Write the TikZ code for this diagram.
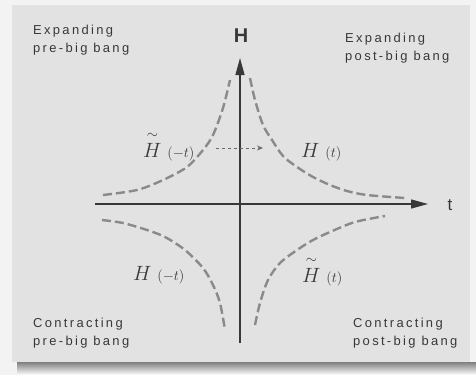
\documentclass[tikz,border=0pt]{standalone}
\usepackage{fontspec}
\usepackage{amsmath}
\setmainfont{Liberation Sans}[LetterSpace=18]
\usetikzlibrary{arrows.meta}
\definecolor{paper}{HTML}{F3F3F3}
\definecolor{panel}{HTML}{E2E2E2}
\definecolor{shade}{HTML}{8E8E8E}
\definecolor{ink}{HTML}{383838}
\definecolor{branchgray}{HTML}{8A8A8A}
\tikzset{
  axis/.style={line width=1.3bp, draw=ink, -{Triangle[length=17bp,width=9bp]}},
  branch/.style={line width=2.4bp, draw=branchgray, dash pattern=on 9bp off 4bp},
  region/.style={inner sep=0pt, align=left, anchor=north west, text=ink,
    font=\fontsize{13}{18}\selectfont},
  hlab/.style={inner sep=0pt, anchor=base west, text=ink,
    font=\fontsize{20}{20}\selectfont},
}
\begin{document}
\begin{tikzpicture}[x=1bp,y=-1bp]
\useasboundingbox (0,0) rectangle (476,375);
\fill[paper] (0,0) rectangle (476,375);
\fill[panel] (12,5) rectangle (470,362);
\fill[shade] (17,362) rectangle (476,375);
% axes
\coordinate (tstart) at (95,204);
\coordinate (tend) at (428,204);
\coordinate (hstart) at (240,343);
\coordinate (hend) at (240,58);
\draw[axis] (tstart) -- (tend);
\draw[axis] (hstart) -- (hend);
\node[inner sep=0pt, text=ink, font=\fontsize{20}{20}\selectfont\bfseries] (Hlab) at (241,36) {H};
\node[inner sep=0pt, text=ink, font=\fontsize{17}{17}\selectfont] (tlab) at (450,205) {t};
% the four branches
\draw[branch] plot[smooth] coordinates {(103,195) (137,190) (163,180) (187,167)
  (203,150) (213,135) (223,108) (230,80)};
\draw[branch] plot[smooth] coordinates {(250,78) (255,100) (263,125) (272,140)
  (283,156) (297,167) (313,177) (330,185) (347,191) (367,195) (405,198)};
\draw[branch] plot[smooth] coordinates {(102,220) (123,223) (147,230) (165,237)
  (185,250) (203,268) (213,285) (220,303) (225,330)};
\draw[branch] plot[smooth] coordinates {(255,325) (260,303) (268,280) (280,263)
  (297,250) (313,240) (330,232) (355,222) (385,216)};
\coordinate (dleft) at (216,148);
\coordinate (dright) at (263,148);
\draw[ink!75, line width=0.8bp, dashed, -{Stealth[length=6bp,width=5bp]}] (dleft) -- (dright);
\node[hlab] (Hdm) at (143,157) {$\overset{\sim}{H}\;{\scriptstyle(-t)}$};
\node[hlab] (Ht) at (301,157) {$H\;{\scriptstyle(t)}$};
\node[hlab] (Hm) at (133,280) {$H\;{\scriptstyle(-t)}$};
\node[hlab] (Hdt) at (302,282) {$\overset{\sim}{H}\;{\scriptstyle(t)}$};
% regions
\node[region] (expre) at (33,25) {Expanding\\pre-big bang};
\node[region] (expost) at (345,33) {Expanding\\post-big bang};
\node[region] (conpre) at (33,318) {Contracting\\pre-big bang};
\node[region] (conpost) at (353,318) {Contracting\\post-big bang};
\end{tikzpicture}
\end{document}
